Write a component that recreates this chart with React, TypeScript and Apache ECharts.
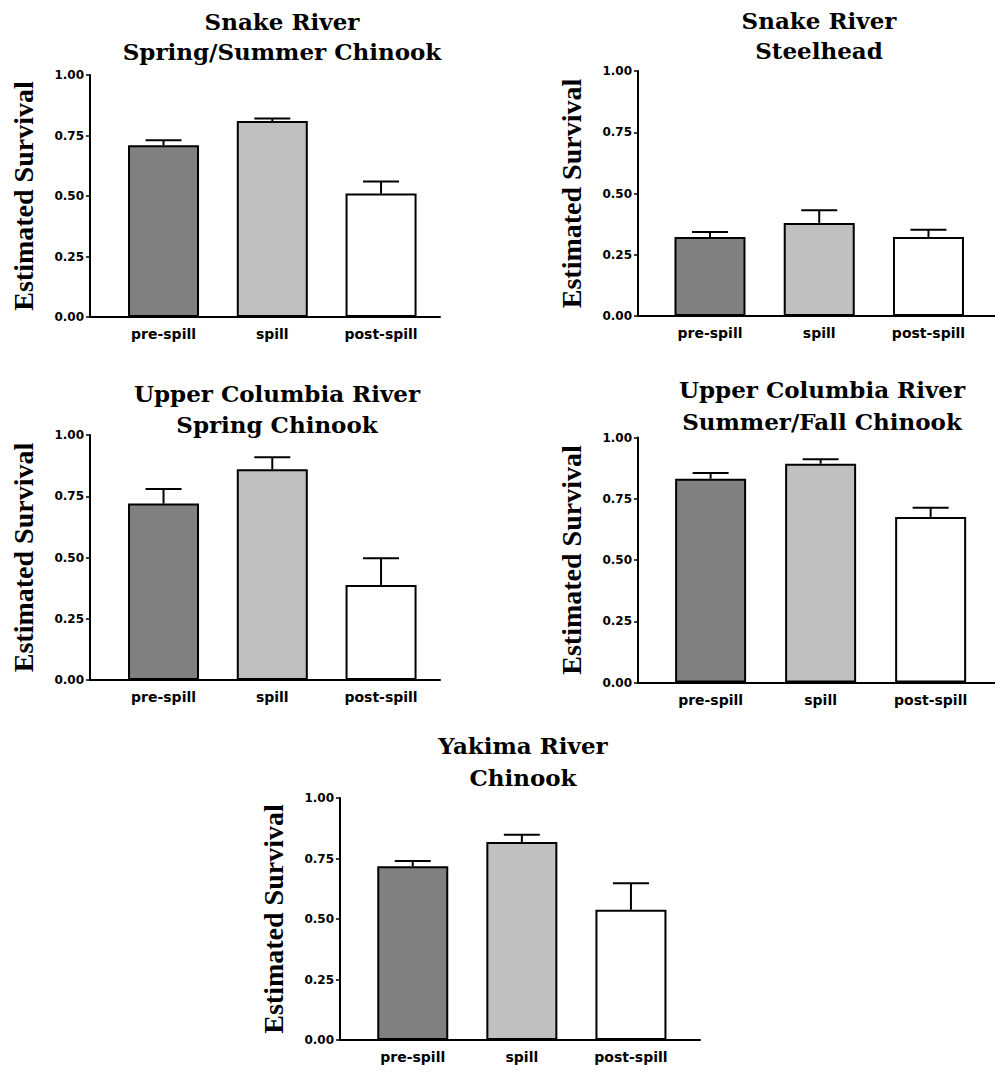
import React, { useEffect, useRef } from "react";
import * as echarts from "echarts";

const categories = ["pre-spill", "spill", "post-spill"];

const panelTitles = [
  "Snake River\nSpring/Summer Chinook",
  "Snake River\nSteelhead",
  "Upper Columbia River\nSpring Chinook",
  "Upper Columbia River\nSummer/Fall Chinook",
  "Yakima River\nChinook",
];

const snakeChinookSurvival = [0.71, 0.81, 0.51];
const snakeChinookUpper = [0.73, 0.82, 0.56];
const snakeSteelheadSurvival = [0.322, 0.38, 0.322];
const snakeSteelheadUpper = [0.343, 0.432, 0.352];
const upperColSpringSurvival = [0.72, 0.86, 0.388];
const upperColSpringUpper = [0.78, 0.909, 0.497];
const upperColSummerSurvival = [0.832, 0.893, 0.676];
const upperColSummerUpper = [0.855, 0.911, 0.713];
const yakimaSurvival = [0.718, 0.818, 0.538];
const yakimaUpper = [0.74, 0.848, 0.648];

const yTickValues = [0, 0.25, 0.5, 0.75, 1];
const yAxisTitle = "Estimated Survival";

const survivalSets = [
  snakeChinookSurvival,
  snakeSteelheadSurvival,
  upperColSpringSurvival,
  upperColSummerSurvival,
  yakimaSurvival,
];
const upperSets = [
  snakeChinookUpper,
  snakeSteelheadUpper,
  upperColSpringUpper,
  upperColSummerUpper,
  yakimaUpper,
];

// layout (pixels) and styles
const layouts = [
  { left: 90, top: 75, width: 350, height: 242, xMin: -0.676, xMax: 2.542, titleX: 282, titleY: 6, lh: 30 },
  { left: 638, top: 71, width: 357, height: 245, xMin: -0.659, xMax: 2.609, titleX: 819, titleY: 5, lh: 30 },
  { left: 90, top: 435, width: 350, height: 245, xMin: -0.676, xMax: 2.542, titleX: 277, titleY: 378, lh: 31 },
  { left: 638, top: 437.5, width: 357, height: 245, xMin: -0.66, xMax: 2.585, titleX: 822, titleY: 373, lh: 32 },
  { left: 340, top: 798, width: 360, height: 242, xMin: -0.667, xMax: 2.633, titleX: 523, titleY: 729, lh: 32 },
];
const barColors = ["#808080", "#c0c0c0", "#ffffff"];

export default function App() {
  const ref = useRef<HTMLDivElement>(null);
  useEffect(() => {
    if (!ref.current) return;
    const chart = echarts.init(ref.current, undefined, { renderer: "svg" });
    const grids: any[] = [];
    const xAxes: any[] = [];
    const yAxes: any[] = [];
    const series: any[] = [];
    const graphics: any[] = [];
    layouts.forEach((l, i) => {
      grids.push({ left: l.left, top: l.top, width: l.width, height: l.height, containLabel: false });
      xAxes.push({
        type: "value",
        gridIndex: i,
        min: l.xMin,
        max: l.xMax,
        axisLine: { show: true, onZero: false, lineStyle: { color: "#000", width: 2 } },
        axisTick: { show: false },
        splitLine: { show: false },
        axisLabel: {
          customValues: [0, 1, 2],
          formatter: (v: number) => categories[Math.round(v)] ?? "",
          color: "#000",
          fontFamily: "DejaVu Sans",
          fontWeight: "bold",
          fontSize: 14,
          margin: 10,
        },
      });
      yAxes.push({
        type: "value",
        gridIndex: i,
        min: 0,
        max: 1,
        interval: 0.25,
        axisLine: { show: true, onZero: false, lineStyle: { color: "#000", width: 2 } },
        axisTick: { show: true, length: 4, lineStyle: { color: "#000", width: 1.5 } },
        splitLine: { show: false },
        axisLabel: {
          formatter: (v: number) => v.toFixed(2),
          color: "#000",
          fontFamily: "DejaVu Sans",
          fontWeight: "bold",
          fontSize: 12,
          margin: 6,
          customValues: yTickValues,
        },
        name: yAxisTitle,
        nameLocation: "middle",
        nameGap: 53,
        nameTextStyle: {
          fontFamily: "Liberation Serif",
          fontWeight: "bold",
          fontSize: 28,
          color: "#000",
        },
      });
      const vals = survivalSets[i];
      const ups = upperSets[i];
      series.push({
        type: "custom",
        xAxisIndex: i,
        yAxisIndex: i,
        z: 1,
        data: vals.map((v, j) => [j, v, ups[j]]),
        renderItem: (params: any, api: any) => {
          const x = api.value(0);
          const v = api.value(1);
          const u = api.value(2);
          const base = api.coord([x, v]);
          const top = api.coord([x, u]);
          return {
            type: "group",
            children: [
              { type: "line", shape: { x1: base[0], y1: base[1], x2: top[0], y2: top[1] }, style: { stroke: "#000", lineWidth: 2 } },
              { type: "line", shape: { x1: top[0] - 18, y1: top[1], x2: top[0] + 18, y2: top[1] }, style: { stroke: "#000", lineWidth: 2 } },
            ],
          };
        },
      });
      series.push({
        type: "bar",
        xAxisIndex: i,
        yAxisIndex: i,
        z: 2,
        barWidth: 71,
        data: vals.map((v, j) => ({ value: [j, v], itemStyle: { color: barColors[j] } })),
        itemStyle: { borderColor: "#000", borderWidth: 2 },
      });
      graphics.push({
        type: "text",
        x: l.titleX,
        y: l.titleY,
        style: {
          text: panelTitles[i],
          align: "center",
          verticalAlign: "top",
          fontFamily: "DejaVu Serif",
          fontWeight: "bold",
          fontSize: 23,
          lineHeight: l.lh,
          fill: "#000",
        },
      });
    });
    chart.setOption({
      animation: false,
      backgroundColor: "#fff",
      grid: grids,
      xAxis: xAxes,
      yAxis: yAxes,
      series,
      graphic: graphics,
    });
    return () => chart.dispose();
  }, []);
  return (
    <div
      ref={ref}
      style={{ position: "absolute", left: 0, top: 0, width: 995, height: 1074 }}
    />
  );
}
